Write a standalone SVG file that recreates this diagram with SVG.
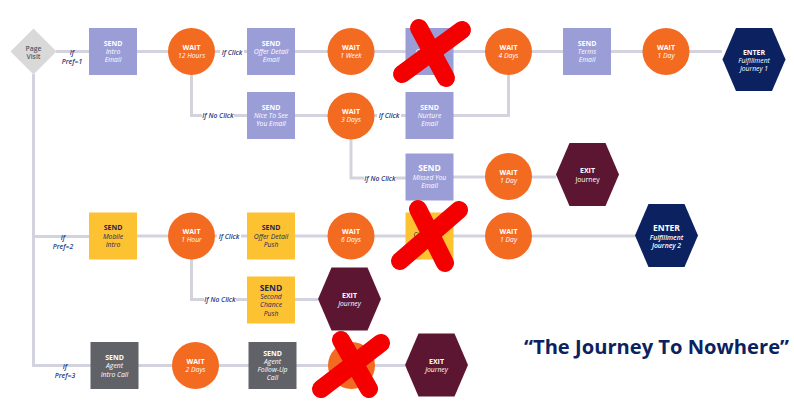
<svg xmlns="http://www.w3.org/2000/svg" xmlns:xlink="http://www.w3.org/1999/xlink" width="794" height="401" viewBox="0 0 794 401">
<style>
text{font-family:"Open Sans","Noto Sans","Liberation Sans",sans-serif;text-anchor:middle}
.b{font-weight:700;font-size:7px}
.i{font-style:italic;font-size:6.8px}
.w{fill:#ffffff}
.n{fill:#1b2757}
.purple{fill:#9b9dd7}
.orange{fill:#f36a21}
.yellow{fill:#fdc232}
.grey{fill:#616268}
.navy{fill:#0c2260}
.maroon{fill:#5d1631}
.dia{fill:#d9d9d9}
.conn{fill:none;stroke:#d3d3df;stroke-width:3}
.lbl{font-style:italic;font-weight:600;font-size:6.8px;fill:#27387a}
.lbg{fill:#ffffff}
.x{fill:none;stroke:#f40000;stroke-width:18;stroke-linecap:round}
.title{font-weight:700;font-size:20px;fill:#0c2260}
</style>
<defs>
<rect id="box" x="-24" y="-23.5" width="48" height="47"/>
<circle id="circ" r="23.5"/>
<polygon id="hex" points="-31.5,0 -18,-31.5 18,-31.5 31.5,0 18,31.5 -18,31.5"/>
</defs>

<g id="connectors">
<path class="conn" d="M56,51.5H722"/>
<path class="conn" d="M191.5,75V115.5H247"/>
<path class="conn" d="M295,115.5H406"/>
<path class="conn" d="M453,115.5H508.5V75"/>
<path class="conn" d="M351,139V178H406"/>
<path class="conn" d="M453,177H556"/>
<path class="conn" d="M33.5,74V365.5H91"/>
<path class="conn" d="M33.5,236.5H89"/>
<path class="conn" d="M137,236H635"/>
<path class="conn" d="M191.5,259V299.5H247"/>
<path class="conn" d="M295,299.5H318"/>
<path class="conn" d="M138,365.5H405"/>
<text class="lbl" x="72" y="55">If</text>
<text class="lbl" x="72" y="63.5">Pref=1</text>
<text class="lbl" x="63" y="240">If</text>
<text class="lbl" x="63" y="248.5">Pref=2</text>
<text class="lbl" x="65" y="369">If</text>
<text class="lbl" x="65" y="377.5">Pref=3</text>
<rect class="lbg" x="220" y="47" width="24" height="10"/>
<text class="lbl" x="232" y="54.5">If Click</text>
<rect class="lbg" x="202" y="110.5" width="32" height="10"/>
<text class="lbl" x="218" y="118">If No Click</text>
<rect class="lbg" x="377" y="110.5" width="24" height="10"/>
<text class="lbl" x="389" y="118">If Click</text>
<rect class="lbg" x="364" y="173" width="32" height="10"/>
<text class="lbl" x="380" y="181">If No Click</text>
<rect class="lbg" x="217" y="231" width="24" height="10"/>
<text class="lbl" x="229" y="239">If Click</text>
<rect class="lbg" x="204" y="294.5" width="32" height="10"/>
<text class="lbl" x="220" y="301.5">If No Click</text>
</g>

<g id="pageVisit" transform="translate(33.5,51.5)">
<polygon class="dia" points="0,-23 23,0 0,23 -23,0"/>
<text class="i" y="-1" style="font-style:normal;font-weight:600;fill:#555a66">Page</text>
<text class="i" y="7" style="font-style:normal;font-weight:600;fill:#555a66">Visit</text>
</g>

<g id="sendIntroEmail" transform="translate(113,51.5)">
<use xlink:href="#box" class="purple"/>
<text class="b w" y="-5.8">SEND</text><text class="i w" y="2.6">Intro</text><text class="i w" y="10.9">Email</text>
</g>
<g id="wait12Hours" transform="translate(191.5,51.5)">
<use xlink:href="#circ" class="orange"/>
<text class="b w" y="-2">WAIT</text><text class="i w" y="6.4">12 Hours</text>
</g>
<g id="sendOfferDetailEmail" transform="translate(271,51.5)">
<use xlink:href="#box" class="purple"/>
<text class="b w" y="-5.8">SEND</text><text class="i w" y="2.6">Offer Detail</text><text class="i w" y="10.9">Email</text>
</g>
<g id="wait1Week" transform="translate(351,51.5)">
<use xlink:href="#circ" class="orange"/>
<text class="b w" y="-2">WAIT</text><text class="i w" y="6.4">1 Week</text>
</g>
<g id="crossedSend1" transform="translate(429.5,51.5)">
<use xlink:href="#box" class="purple"/>
<text class="i w" x="-14" y="2.6" style="text-anchor:start">C</text>
</g>
<g id="wait4Days" transform="translate(508.5,51.5)">
<use xlink:href="#circ" class="orange"/>
<text class="b w" y="-2">WAIT</text><text class="i w" y="6.4">4 Days</text>
</g>
<g id="sendTermsEmail" transform="translate(587,51.5)">
<use xlink:href="#box" class="purple"/>
<text class="b w" y="-5.8">SEND</text><text class="i w" y="2.6">Terms</text><text class="i w" y="10.9">Email</text>
</g>
<g id="wait1DayA" transform="translate(666,51.5)">
<use xlink:href="#circ" class="orange"/>
<text class="b w" y="-2">WAIT</text><text class="i w" y="6.4">1 Day</text>
</g>
<g id="enterFulfillment1" transform="translate(754,59.5)">
<use xlink:href="#hex" class="navy"/>
<text class="b w" y="-5">ENTER</text><text class="i w" y="3">Fulfillment</text><text class="i w" y="11">Journey 1</text>
</g>

<g id="sendNiceToSee" transform="translate(271,115.5)">
<use xlink:href="#box" class="purple"/>
<text class="b w" y="-5.8">SEND</text><text class="i w" y="2.6">Nice To See</text><text class="i w" y="10.9">You Email</text>
</g>
<g id="wait3Days" transform="translate(351,116)">
<use xlink:href="#circ" class="orange"/>
<text class="b w" y="-2">WAIT</text><text class="i w" y="6.4">3 Days</text>
</g>
<g id="sendNurtureEmail" transform="translate(429.5,115.5)">
<use xlink:href="#box" class="purple"/>
<text class="b w" y="-5.8">SEND</text><text class="i w" y="2.6">Nurture</text><text class="i w" y="10.9">Email</text>
</g>
<g id="sendMissedYou" transform="translate(429.5,177)">
<use xlink:href="#box" class="purple"/>
<text class="b w" y="-6" style="font-size:8.5px">SEND</text><text class="i w" y="2.8">Missed You</text><text class="i w" y="11">Email</text>
</g>
<g id="wait1DayB" transform="translate(508.5,176.5)">
<use xlink:href="#circ" class="orange"/>
<text class="b w" y="-2">WAIT</text><text class="i w" y="6.4">1 Day</text>
</g>
<g id="exitJourneyA" transform="translate(587.5,174.5)">
<use xlink:href="#hex" class="maroon"/>
<text class="b w" y="-1.5">EXIT</text><text class="i w" y="7" style="font-style:normal">Journey</text>
</g>

<g id="sendMobileIntro" transform="translate(113,236)">
<use xlink:href="#box" class="yellow"/>
<text class="b n" y="-5.8">SEND</text><text class="i n" y="2.6">Mobile</text><text class="i n" y="10.9">Intro</text>
</g>
<g id="wait1Hour" transform="translate(191.5,236)">
<use xlink:href="#circ" class="orange"/>
<text class="b w" y="-2">WAIT</text><text class="i w" y="6.4">1 Hour</text>
</g>
<g id="sendOfferDetailPush" transform="translate(271,236)">
<use xlink:href="#box" class="yellow"/>
<text class="b n" y="-5.8">SEND</text><text class="i n" y="2.6">Offer Detail</text><text class="i n" y="10.9">Push</text>
</g>
<g id="wait6Days" transform="translate(351,236)">
<use xlink:href="#circ" class="orange"/>
<text class="b w" y="-2">WAIT</text><text class="i w" y="6.4">6 Days</text>
</g>
<g id="crossedSend2" transform="translate(429.5,236)">
<use xlink:href="#box" class="yellow"/>
<text class="i n" x="-16" y="1" style="text-anchor:start">C</text>
</g>
<g id="wait1DayC" transform="translate(508.5,236)">
<use xlink:href="#circ" class="orange"/>
<text class="b w" y="-2">WAIT</text><text class="i w" y="6.4">1 Day</text>
</g>
<g id="enterFulfillment2" transform="translate(666.5,235.5)">
<use xlink:href="#hex" class="navy"/>
<text class="b w" y="-4.5" style="font-size:8.5px">ENTER</text><text class="i w" y="4" style="font-weight:600">Fulfillment</text><text class="i w" y="12" style="font-weight:600">Journey  2</text>
</g>

<g id="sendSecondChance" transform="translate(271,300)">
<use xlink:href="#box" class="yellow"/>
<text class="b n" y="-9" style="font-size:8.5px">SEND</text><text class="i n" y="-1.5">Second</text><text class="i n" y="7.3">Chance</text><text class="i n" y="15.5">Push</text>
</g>
<g id="exitJourneyB" transform="translate(349.5,299)">
<use xlink:href="#hex" class="maroon"/>
<text class="b w" y="-1.5">EXIT</text><text class="i w" y="7">Journey</text>
</g>

<g id="sendAgentIntroCall" transform="translate(114.5,365.5)">
<use xlink:href="#box" class="grey"/>
<text class="b w" y="-5.4">SEND</text><text class="i w" y="2.9">Agent</text><text class="i w" y="11">Intro Call</text>
</g>
<g id="wait2Days" transform="translate(195.5,365.5)">
<use xlink:href="#circ" class="orange"/>
<text class="b w" y="-2">WAIT</text><text class="i w" y="6.4">2 Days</text>
</g>
<g id="sendAgentFollowUp" transform="translate(272.5,365.5)">
<use xlink:href="#box" class="grey"/>
<text class="b w" y="-10">SEND</text><text class="i w" y="-1.6">Agent</text><text class="i w" y="6.4">Follow-Up</text><text class="i w" y="14.4">Call</text>
</g>
<g id="crossedWait" transform="translate(351.5,365.5)">
<use xlink:href="#circ" class="orange"/>
</g>
<g id="exitJourneyC" transform="translate(436.5,365)">
<use xlink:href="#hex" class="maroon"/>
<text class="b w" y="-1.5">EXIT</text><text class="i w" y="7">Journey</text>
</g>

<g id="crosses">
<path class="x" d="M419,28L446,78M462,30L402,74"/>
<path class="x" d="M418,209L445,263M459,210L400,261"/>
<path class="x" d="M341,340L369,389M381,343L321,389"/>
</g>

<text class="title" x="656.5" y="354" textLength="265" lengthAdjust="spacingAndGlyphs">“The Journey To Nowhere”</text>
</svg>
